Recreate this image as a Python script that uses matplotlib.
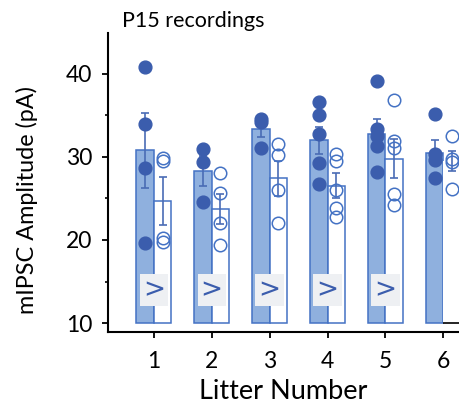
import matplotlib
matplotlib.use("Agg")
import matplotlib.pyplot as plt
import numpy as np

plt.rcParams['font.family'] = ['Lato', 'DejaVu Sans']

# Data
litters = [1, 2, 3, 4, 5, 6]
mean_filled = [30.8, 28.3, 33.3, 32.0, 32.8, 30.5]
sem_filled = [4.5, 1.8, 0.9, 1.6, 1.8, 1.5]
mean_open = [24.7, 23.7, 27.4, 26.5, 29.8, 29.5]
sem_open = [2.9, 1.8, 2.1, 1.5, 2.4, 1.25]

pts_filled = [
    [40.8, 34.0, 28.6, 19.6],
    [30.9, 29.4, 24.6],
    [34.6, 34.2, 31.1],
    [36.6, 35.0, 32.8, 29.2, 26.7],
    [39.1, 33.4, 32.5, 31.3, 28.2],
    [35.1, 30.4, 29.6, 27.4],
]
pts_open = [
    [29.9, 29.5, 20.2, 19.7],
    [28.1, 25.6, 22.0, 19.4],
    [31.6, 30.2, 26.0, 22.0],
    [30.3, 29.5, 26.0, 23.9, 22.8],
    [36.8, 31.9, 31.1, 25.5, 24.2],
    [32.5, 29.8, 29.4, 26.1],
]
marked = [1, 2, 3, 4, 5]  # litters with the ">" tag

# Colours
face = '#8FB0DE'
edge = '#4472C4'
dot = '#3B5DAD'

fig = plt.figure(figsize=(4.59, 4.07), dpi=100)
ax = fig.add_axes([0.235, 0.184, 0.765, 0.735])

x = np.array(litters, dtype=float)
w = 0.3
base = 10

ax.bar(x - w / 2, np.array(mean_filled) - base, width=w, bottom=base,
       color=face, edgecolor=edge, linewidth=1.1, zorder=2)
open_edges = [edge] * 5 + ['none']
ax.bar(x + w / 2, np.array(mean_open) - base, width=w, bottom=base,
       color='white', edgecolor=open_edges, linewidth=1.1, zorder=2)
ax.hlines(base, x[5], x[5] + w, color='black', lw=1.2, zorder=2)

ax.errorbar(x - w / 2, mean_filled, yerr=sem_filled, fmt='none',
            ecolor='#4A6CB5', elinewidth=1.2, capsize=3.2, capthick=1.2, zorder=3)
ax.errorbar(x + w / 2, mean_open, yerr=sem_open, fmt='none',
            ecolor='#4A6CB5', elinewidth=1.2, capsize=3.2, capthick=1.2, zorder=3)

for xi, vals in zip(x, pts_filled):
    ax.plot([xi - w / 2] * len(vals), vals, 'o', ms=9.2, color=dot,
            mec=dot, zorder=4, clip_on=False)
for xi, vals in zip(x, pts_open):
    ax.plot([xi + w / 2] * len(vals), vals, 'o', ms=9.0, mfc='none',
            mec=edge, mew=1.1, zorder=4, clip_on=False)

for m in marked:
    ax.text(m, 14, '>', ha='center', va='center', fontsize=19, color=dot,
            family='DejaVu Sans', zorder=5,
            bbox=dict(boxstyle='square,pad=0.12', fc='#EEF0F3', ec='none'))

ax.set_xlim(0.206, 6.27)
ax.set_ylim(8.92, 44.9)
ax.set_xticks(litters)
ax.set_yticks([10, 20, 30, 40])
ax.set_yticks([15, 25, 35], minor=True)
ax.tick_params(axis='both', labelsize=16.5, width=1.3, length=4.3)
ax.tick_params(axis='y', pad=7)
ax.tick_params(axis='x', pad=9)
ax.tick_params(axis='y', which='minor', length=2.5, width=1.2)

for s in ['top', 'right']:
    ax.spines[s].set_visible(False)
for s in ['left', 'bottom']:
    ax.spines[s].set_linewidth(1.5)

ax.set_xlabel('Litter Number', fontsize=19.5, labelpad=5)
ax.set_ylabel('mIPSC Amplitude (pA)', fontsize=16.8)
ax.yaxis.set_label_coords(-0.2, 0.443)

fig.text(122 / 459, 1 - 27 / 407, 'P15 recordings', fontsize=15.5, va='baseline')

fig.savefig('out.png', dpi=100)
